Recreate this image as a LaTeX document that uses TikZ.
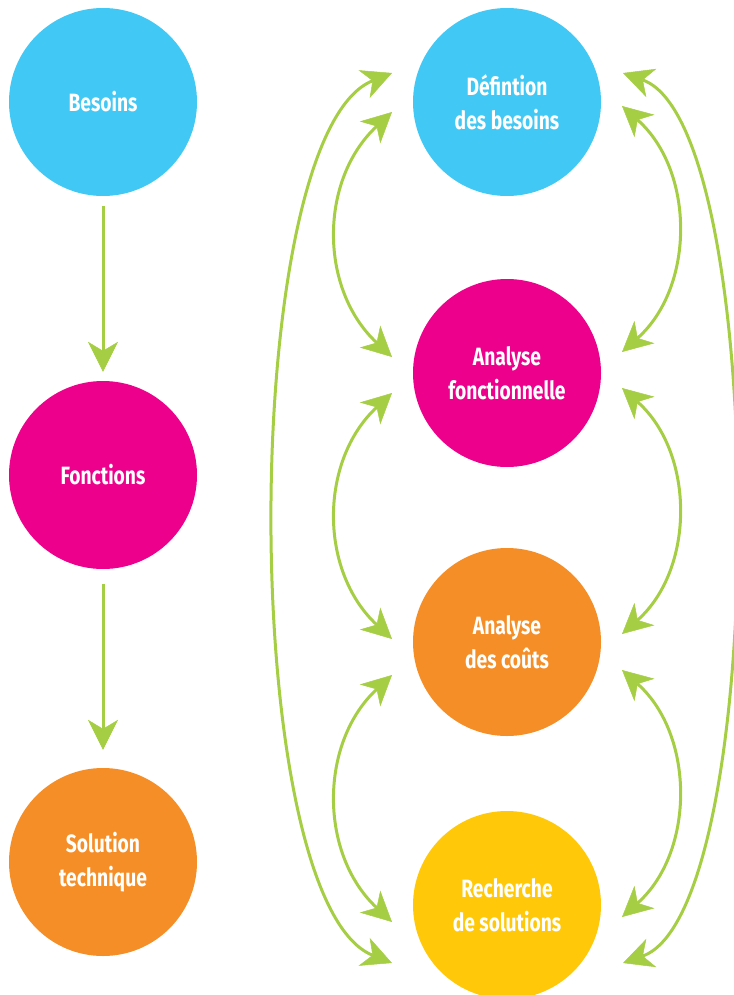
\documentclass[tikz,border=0pt]{standalone}
\usepackage{fontspec}
\setmainfont{Fira Sans}[FakeStretch=0.77]
\usetikzlibrary{arrows.meta}

\definecolor{cblue}{HTML}{42C8F4}
\definecolor{cmagenta}{HTML}{EC008C}
\definecolor{corange}{HTML}{F68E27}
\definecolor{cyellow}{HTML}{FFC90A}
\definecolor{cgreen}{HTML}{A6CE45}

\tikzset{
  tipshape/.tip={Stealth[length=30pt 0 0, width=30pt 0 0, inset=9pt 0 0, line width=0.5pt]},
  disc/.style={circle, minimum size=188pt, inner sep=0pt, fill=#1,
    text=white, align=center, font=\bfseries\fontsize{25}{34}\selectfont},
  link/.style={draw=cgreen, line width=3pt, -tipshape},
  twoway/.style={draw=cgreen, line width=3pt, tipshape-tipshape}
}

\begin{document}
\begin{tikzpicture}[x=1pt, y=-1pt]
\useasboundingbox (0,0) rectangle (733,995);

% left column: needs -> functions -> technical solution
\node[disc=cblue]    (besoins)   at (103,102) {Besoins};
\node[disc=cmagenta] (fonctions) at (103,475) {Fonctions};
\node[disc=corange]  (solution)  at (103,862) {Solution\\technique};

\draw[link, shorten <=10pt, shorten >=9pt] (besoins) -- (fonctions);
\draw[link, shorten <=15pt, shorten >=18pt] (fonctions) -- (solution);

% right column: the four stages
\node[disc=cblue]    (definition) at (507,102) {Défintion\\des besoins};
\node[disc=cmagenta] (analysef)   at (507,373) {Analyse\\fonctionnelle};
\node[disc=corange]  (analysec)   at (507,642) {Analyse\\des coûts};
\node[disc=cyellow]  (recherche)  at (507,905) {Recherche\\de solutions};

% arrow ends on the left of the stages
\coordinate (lA) at (392,73);
\coordinate (lB) at (392,112);
\coordinate (lC) at (392,357);
\coordinate (lD) at (392,393);
\coordinate (lE) at (392,639);
\coordinate (lF) at (392,675);
\coordinate (lG) at (392,922);
\coordinate (lH) at (392,963);

% arrow ends on the right of the stages
\coordinate (rA) at (623,73);
\coordinate (rB) at (622,106);
\coordinate (rC) at (622,352);
\coordinate (rD) at (622,388);
\coordinate (rE) at (622,634);
\coordinate (rF) at (622,670);
\coordinate (rG) at (622,917);
\coordinate (rH) at (623,963);

% left side loops
\draw[twoway] (lA) .. controls (237,135) and (237,901) .. (lH);
\draw[twoway] (lB) .. controls (319,180) and (319,289) .. (lC);
\draw[twoway] (lD) .. controls (319,461) and (319,571) .. (lE);
\draw[twoway] (lF) .. controls (319,743) and (319,854) .. (lG);

% right side loops
\draw[twoway] (rA) .. controls (770,125) and (770,911) .. (rH);
\draw[twoway] (rB) .. controls (695,171) and (695,287) .. (rC);
\draw[twoway] (rD) .. controls (695,453) and (695,569) .. (rE);
\draw[twoway] (rF) .. controls (695,735) and (695,852) .. (rG);
\end{tikzpicture}
\end{document}
